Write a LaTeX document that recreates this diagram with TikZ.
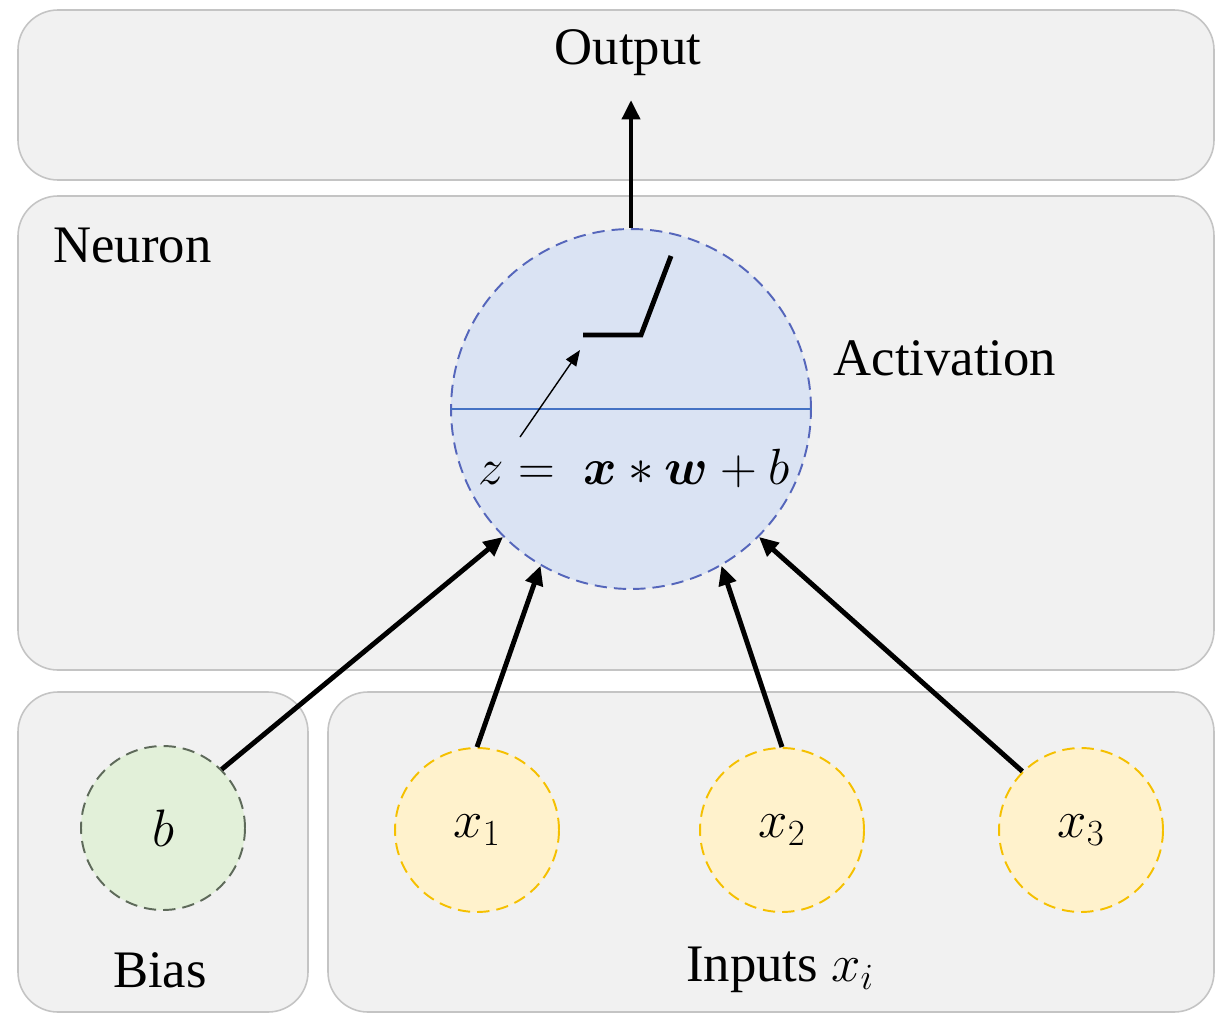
\RequirePackage{fix-cm}
\documentclass[tikz,border=0pt]{standalone}
\usepackage{amsmath,bm}
\usepackage{fontspec}
\setmainfont{Liberation Serif}
\usetikzlibrary{arrows.meta}
\definecolor{panelfill}{HTML}{F1F1F1}
\definecolor{paneldraw}{HTML}{C4C4C4}
\definecolor{neurfill}{HTML}{DAE3F3}
\definecolor{neurdraw}{HTML}{5566BB}
\definecolor{neurline}{HTML}{4472C4}
\definecolor{biasfill}{HTML}{E2F0D9}
\definecolor{biasdraw}{HTML}{5E6A5A}
\definecolor{inpfill}{HTML}{FFF2CC}
\definecolor{inpdraw}{HTML}{F5C000}
\begin{document}
\begin{tikzpicture}[x=0.02cm,y=-0.02cm,
  panel/.style={draw=paneldraw,fill=panelfill,line width=0.9pt,rounded corners=0.8cm},
  txt/.style={font=\fontsize{30}{36}\selectfont,inner sep=0pt},
  smallcirc/.style={circle,minimum size=3.28cm,inner sep=0pt,line width=1.1pt,dash pattern=on 7pt off 4pt,font=\fontsize{30}{36}\selectfont},
  bigarrow/.style={line width=2.8pt,-{Triangle[length=11pt,width=10pt]}},
  thinarrow/.style={line width=0.8pt,-{Triangle[length=9pt,width=7pt]}}]
\useasboundingbox (0,0) rectangle (1216,1014);
\fill[white] (0,0) rectangle (1216,1014);
% panels
\draw[panel] (18,10) rectangle (1214,180);
\draw[panel] (18,196) rectangle (1214,670);
\draw[panel] (18,692) rectangle (308,1012);
\draw[panel] (328,692) rectangle (1214,1012);
% texts
\node[txt] (outlbl) at (628,53) {Output};
\node[txt,anchor=west] (neulbl) at (53,245) {Neuron};
\node[txt] (actlbl) at (945,358) {Activation};
\node[txt] (biaslbl) at (160,970) {Bias};
\node[txt] (inplbl) at (780,970) {Inputs $x_i$};
% neuron
\node[circle,minimum size=7.2cm,inner sep=0pt,fill=neurfill,draw=neurdraw,line width=1.1pt,dash pattern=on 7pt off 4pt] (neuron) at (631,409) {};
\draw[neurline,line width=1.4pt] (neuron.west) -- (neuron.east);
\node[font=\fontsize{29}{35}\selectfont,inner sep=0pt] (formula) at (634,468) {$z = \; \bm{x} * \bm{w} + b$};
\draw[line width=2.8pt,line join=miter] (583,335) -- (641,335) -- (671,256);
\coordinate (zstart) at (520,437);
\coordinate (zend) at (580,350);
\draw[thinarrow] (zstart) -- (zend);
% inputs
\node[smallcirc,fill=biasfill,draw=biasdraw] (b) at (163,828) {$b$};
\node[smallcirc,fill=inpfill,draw=inpdraw] (x1) at (477,830) {$x_1$};
\node[smallcirc,fill=inpfill,draw=inpdraw] (x2) at (782,830) {$x_2$};
\node[smallcirc,fill=inpfill,draw=inpdraw] (x3) at (1081,830) {$x_3$};
% connectors
\draw[bigarrow] (b.45) -- (neuron.225);
\draw[bigarrow] (x1.north) -- (neuron.240);
\draw[bigarrow] (x2.north) -- (neuron.300);
\draw[bigarrow] (x3.135) -- (neuron.315);
\coordinate (outtip) at (631,100);
\draw[bigarrow] (neuron.north) -- (outtip);
\end{tikzpicture}
\end{document}
